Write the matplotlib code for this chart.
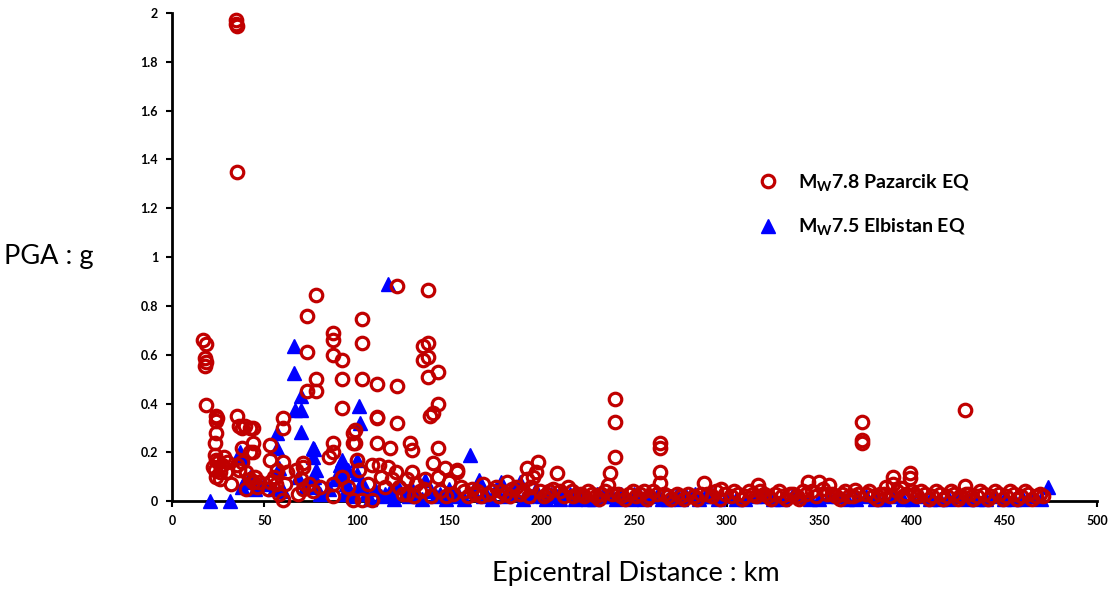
import matplotlib
matplotlib.use("Agg")
import matplotlib.pyplot as plt

plt.rcParams['font.family'] = ['Lato', 'DejaVu Sans']
plt.rcParams['mathtext.fontset'] = 'custom'
plt.rcParams['mathtext.rm'] = 'Lato'
plt.rcParams['mathtext.bf'] = 'Lato:bold'

# Mw7.8 Pazarcik EQ : epicentral distance (km), PGA (g)
paz_dist = [17, 18.5, 18, 18.5, 18, 18.5,
            24, 24.5, 24, 24, 23.5, 23, 24, 25, 27, 23, 26, 24, 28, 30, 22, 26, 29,
            32, 34.5, 34.5, 35, 35, 35, 36, 37.7, 39.5, 42, 44, 38, 44, 42, 44,
            35, 36, 40, 42, 45, 44, 46, 38, 47, 40,
            53, 53, 55, 53, 52, 56, 58, 60, 60, 60, 60, 61, 62, 57,
            67, 71, 71, 71, 72.8, 72.8, 72.8, 78, 78, 78, 70, 74, 76, 68, 80,
            87, 87, 87, 91.7, 91.7, 91.7, 87, 87, 85, 87, 87, 99, 98, 98, 99, 100, 101, 98, 95, 92,
            102.5, 102.5, 102.5, 103, 106, 108, 110.6, 110.6, 110.6, 110.6, 112, 113, 115,
            118, 117, 119, 121.5, 121.4, 121.4, 121, 123, 125, 108,
            128.6, 129.6, 130, 132, 134, 135.7, 135.7, 138.6, 138.5, 138.5, 138.5, 139.5,
            141, 141, 143.8, 143.8, 143.8, 144, 147.5, 150, 154, 154, 156, 158, 137, 127,
            162, 165, 168, 171, 175, 178, 181, 184, 188, 191.7, 192, 195, 197, 198, 194, 199, 186,
            203, 206, 208, 210, 214, 217, 221, 225, 229, 232, 235.7, 236.8, 239.5, 239.5, 239.5, 238,
            243, 247, 251, 255, 258, 263.8, 263.8, 263.8, 263.8, 262, 268, 273, 277, 282,
            287.6, 286, 292, 297, 299,
            302, 306, 310, 314, 317, 318, 322, 326, 330, 334, 338, 341, 344, 346, 350, 352, 355, 357, 359,
            362, 366, 369, 372.8, 372.8, 372.8, 375, 379, 383, 386, 390, 390, 394, 397, 399, 399,
            400, 403, 407, 411, 415, 419,
            423, 426, 428.6, 428.6, 431, 435, 439, 443, 447, 451, 455, 459, 463, 467, 471,
            127, 131, 136, 140, 145, 148, 152, 160, 164, 167, 173, 177, 180, 183, 190, 193,
            201, 204, 212, 216, 219, 223, 227, 231, 234, 241, 245, 249, 253, 257, 260, 266,
            270, 275, 279, 284, 289, 294, 296, 304, 308, 312, 316, 320, 324, 328, 332, 336,
            339, 343, 348, 354, 361, 364, 368, 371, 377, 381, 385, 388, 392, 395, 401, 405,
            409, 413, 417, 421, 425, 429, 433, 437, 441, 445, 449, 453, 457, 461, 465, 469]
paz_pga = [0.66, 0.645, 0.585, 0.57, 0.555, 0.395,
           0.35, 0.34, 0.33, 0.28, 0.24, 0.19, 0.17, 0.16, 0.15, 0.13, 0.12, 0.10, 0.18, 0.16, 0.14, 0.09, 0.12,
           0.07, 1.97, 1.955, 1.945, 1.35, 0.35, 0.31, 0.30, 0.31, 0.30, 0.30, 0.22, 0.24, 0.20, 0.20,
           0.15, 0.13, 0.12, 0.09, 0.10, 0.08, 0.06, 0.16, 0.08, 0.05,
           0.23, 0.17, 0.10, 0.08, 0.05, 0.07, 0.03, 0.005, 0.34, 0.30, 0.16, 0.07, 0.12, 0.13,
           0.13, 0.155, 0.14, 0.05, 0.76, 0.61, 0.45, 0.845, 0.50, 0.45, 0.09, 0.07, 0.04, 0.03, 0.06,
           0.69, 0.66, 0.60, 0.58, 0.50, 0.38, 0.24, 0.20, 0.18, 0.07, 0.02, 0.29, 0.28, 0.24, 0.24, 0.17, 0.13, 0.005, 0.06, 0.10,
           0.745, 0.65, 0.50, 0.005, 0.07, 0.15, 0.48, 0.345, 0.34, 0.24, 0.15, 0.10, 0.06,
           0.22, 0.14, 0.09, 0.88, 0.47, 0.32, 0.12, 0.06, 0.03, 0.005,
           0.24, 0.21, 0.12, 0.07, 0.04, 0.635, 0.58, 0.865, 0.65, 0.59, 0.51, 0.35,
           0.36, 0.155, 0.53, 0.40, 0.22, 0.10, 0.135, 0.08, 0.13, 0.12, 0.06, 0.04, 0.09, 0.09,
           0.05, 0.04, 0.07, 0.03, 0.06, 0.04, 0.08, 0.05, 0.03, 0.135, 0.09, 0.10, 0.12, 0.16, 0.06, 0.04, 0.06,
           0.03, 0.05, 0.115, 0.04, 0.06, 0.02, 0.03, 0.04, 0.02, 0.03, 0.065, 0.115, 0.42, 0.325, 0.18, 0.03,
           0.02, 0.03, 0.02, 0.04, 0.02, 0.24, 0.22, 0.12, 0.075, 0.03, 0.02, 0.03, 0.01, 0.02,
           0.075, 0.03, 0.02, 0.05, 0.03,
           0.02, 0.03, 0.02, 0.03, 0.065, 0.04, 0.02, 0.03, 0.02, 0.03, 0.02, 0.04, 0.08, 0.04, 0.08, 0.05, 0.065, 0.03, 0.02,
           0.03, 0.02, 0.045, 0.325, 0.25, 0.24, 0.03, 0.02, 0.03, 0.06, 0.10, 0.07, 0.055, 0.03, 0.115, 0.095,
           0.04, 0.02, 0.03, 0.02, 0.03, 0.02,
           0.03, 0.02, 0.373, 0.062, 0.03, 0.02, 0.03, 0.02, 0.03, 0.02, 0.03, 0.02, 0.03, 0.02, 0.02,
           0.03, 0.02, 0.05, 0.02, 0.04, 0.02, 0.03, 0.02, 0.03, 0.02, 0.04, 0.02, 0.03, 0.02, 0.04, 0.02,
           0.02, 0.04, 0.02, 0.04, 0.03, 0.02, 0.03, 0.01, 0.04, 0.03, 0.01, 0.04, 0.03, 0.01, 0.04, 0.03,
           0.01, 0.02, 0.03, 0.01, 0.03, 0.04, 0.01, 0.04, 0.01, 0.04, 0.02, 0.03, 0.01, 0.04, 0.01, 0.03,
           0.01, 0.03, 0.02, 0.03, 0.01, 0.04, 0.02, 0.03, 0.04, 0.01, 0.03, 0.02, 0.04, 0.02, 0.03, 0.04,
           0.01, 0.04, 0.01, 0.04, 0.01, 0.03, 0.01, 0.04, 0.01, 0.04, 0.01, 0.04, 0.01, 0.04, 0.01, 0.03]

# Mw7.5 Elbistan EQ
elb_dist = [20.5, 31.4, 37, 37.7, 37.7, 39, 42, 45, 50, 56.6, 56.6, 58, 55, 60,
            66, 66, 69.7, 66.5, 70, 69.7, 68, 72, 76, 77, 76, 78, 77, 78, 80, 85, 88,
            91.7, 91, 92, 93, 94, 95, 96, 100, 100, 101, 101, 101.6, 103, 105, 110, 113,
            117, 118, 122, 126, 130, 133, 137, 140, 145, 150, 155, 161, 163, 166, 170, 175,
            178, 180, 185, 188, 192, 196, 200, 205, 210, 215, 220, 225, 230, 235, 240, 245,
            250, 255, 260, 265, 270, 275, 280, 285, 290, 295, 300, 310, 320, 330, 340, 350,
            360, 370, 380, 390, 400, 410, 420, 430, 440, 450, 460, 473.5, 470,
            93, 98, 107, 115, 120, 128, 135, 143, 148, 153, 158, 168, 173, 183, 190, 198,
            202, 208, 212, 218, 223, 228, 233, 238, 243, 248, 253, 258, 263, 268, 273, 278,
            283, 288, 293, 305, 315, 325, 335, 345, 355, 365, 375, 385, 395, 405, 415, 425,
            435, 445, 455, 465]
elb_pga = [0.0, 0.0, 0.20, 0.18, 0.06, 0.08, 0.10, 0.05, 0.07, 0.28, 0.22, 0.135, 0.05, 0.04,
           0.635, 0.525, 0.43, 0.375, 0.375, 0.285, 0.10, 0.06, 0.22, 0.215, 0.18, 0.13, 0.10, 0.06, 0.03, 0.05, 0.09,
           0.17, 0.15, 0.11, 0.10, 0.07, 0.13, 0.04, 0.17, 0.11, 0.06, 0.39, 0.32, 0.08, 0.03, 0.05, 0.02,
           0.89, 0.04, 0.06, 0.03, 0.05, 0.02, 0.085, 0.04, 0.03, 0.05, 0.02, 0.19, 0.04, 0.085, 0.03, 0.05,
           0.08, 0.02, 0.04, 0.08, 0.02, 0.04, 0.02, 0.03, 0.01, 0.03, 0.02, 0.01, 0.03, 0.02, 0.01, 0.02,
           0.03, 0.01, 0.02, 0.01, 0.02, 0.01, 0.02, 0.01, 0.02, 0.01, 0.02, 0.01, 0.02, 0.01, 0.02, 0.01,
           0.02, 0.01, 0.01, 0.02, 0.01, 0.01, 0.01, 0.01, 0.01, 0.01, 0.01, 0.06, 0.01,
           0.03, 0.02, 0.01, 0.03, 0.01, 0.02, 0.01, 0.02, 0.01, 0.03, 0.01, 0.02, 0.01, 0.03, 0.01, 0.03,
           0.01, 0.02, 0.03, 0.01, 0.03, 0.01, 0.03, 0.02, 0.03, 0.01, 0.02, 0.03, 0.03, 0.01, 0.03, 0.02,
           0.03, 0.02, 0.03, 0.01, 0.02, 0.01, 0.02, 0.01, 0.02, 0.01, 0.02, 0.01, 0.01, 0.02, 0.01, 0.02,
           0.01, 0.02, 0.01, 0.02]

fig = plt.figure(figsize=(11.13, 5.89), dpi=100)
ax = fig.add_axes([0.1545, 0.149, 0.831, 0.829])

elb, = ax.plot(elb_dist, elb_pga, linestyle='none', marker='^', markersize=10,
               color='#0000FF', clip_on=False, zorder=3)
paz, = ax.plot(paz_dist, paz_pga, linestyle='none', marker='o', markersize=9,
               markerfacecolor='none', markeredgecolor='#C00000', markeredgewidth=2.3,
               clip_on=False, zorder=4)

ax.set_xlim(0, 500)
ax.set_ylim(0, 2)
ax.set_xticks(range(0, 501, 50))
ax.set_yticks([0, 0.2, 0.4, 0.6, 0.8, 1, 1.2, 1.4, 1.6, 1.8, 2])
ax.set_yticklabels(['0', '0.2', '0.4', '0.6', '0.8', '1', '1.2', '1.4', '1.6', '1.8', '2'])

for s in ['top', 'right']:
    ax.spines[s].set_visible(False)
for s in ['left', 'bottom']:
    ax.spines[s].set_linewidth(2)
    ax.spines[s].set_zorder(2)
ax.tick_params(axis='both', direction='out', length=4, width=1.5, labelsize=9, pad=6)
for lab in ax.get_xticklabels() + ax.get_yticklabels():
    lab.set_fontweight('bold')

fig.text(0.004, 0.565, 'PGA : g', fontsize=19.5, ha='left', va='center')
fig.text(0.571, 0.027, 'Epicentral Distance : km', fontsize=19.5, ha='center', va='center')

ax.legend([paz, elb], [r'$\mathbf{M_W}$7.8 Pazarcik EQ', r'$\mathbf{M_W}$7.5 Elbistan EQ'],
          loc='upper left', bbox_to_anchor=(0.605, 0.71), frameon=False,
          prop={'weight': 'bold', 'size': 14}, labelspacing=1.2, handletextpad=0.5)

fig.savefig('out.png', dpi=100)
